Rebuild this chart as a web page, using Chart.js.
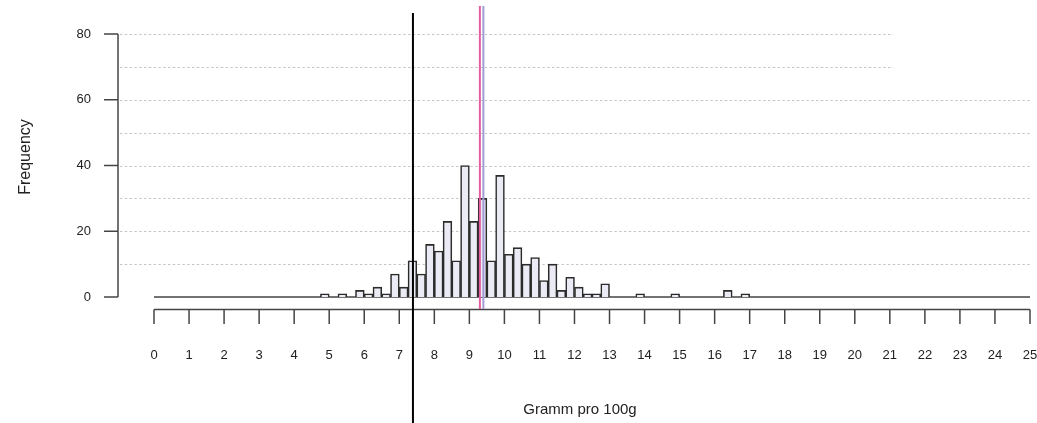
<!DOCTYPE html>
<html>
<head>
<meta charset="utf-8">
<script src="https://cdn.jsdelivr.net/npm/chart.js@4.4.1/dist/chart.umd.min.js"></script>
<style>
  html, body { margin: 0; padding: 0; background: #fff; }
  #wrap { width: 1037px; height: 423px; }
</style>
</head>
<body>
<div id="wrap"><canvas id="hist" width="1037" height="423"></canvas></div>
<script>
// ===== DATA =====
// left edge of each 0.25-wide bin that has counts
const binLeft = [4.75, 5.25, 5.75, 6.0, 6.25, 6.5, 6.75, 7.0, 7.25, 7.5, 7.75, 8.0, 8.25, 8.5,
  8.75, 9.0, 9.25, 9.5, 9.75, 10.0, 10.25, 10.5, 10.75, 11.0, 11.25, 11.5, 11.75, 12.0,
  12.25, 12.5, 12.75, 13.75, 14.75, 16.25, 16.75];
const counts = [1, 1, 2, 1, 3, 1, 7, 3, 11, 7, 16, 14, 23, 11,
  40, 23, 30, 11, 37, 13, 15, 10, 12, 5, 10, 2, 6, 3,
  1, 1, 4, 1, 1, 2, 1];
const binWidth = 0.25;

const xTicks = [0, 1, 2, 3, 4, 5, 6, 7, 8, 9, 10, 11, 12, 13, 14, 15, 16, 17, 18, 19, 20, 21, 22, 23, 24, 25];
const yTicks = [0, 20, 40, 60, 80];
const gridValues = [10, 20, 30, 40, 50, 60, 70, 80];

// reference lines: black, pink, purple
const refLines = [7.39, 9.30, 9.40];

const xTitle = 'Gramm pro 100g';
const yTitle = 'Frequency';

// ===== HELPERS =====
const FONT = '"Liberation Sans", Arial, sans-serif';
const AXIS = '#444';

function line(ctx, x1, y1, x2, y2) {
  ctx.beginPath();
  ctx.moveTo(x1, y1);
  ctx.lineTo(x2, y2);
  ctx.stroke();
}

// draws the R-style axes, grid and labels around the bars
const baseAxes = {
  id: 'baseAxes',
  beforeDatasetsDraw(chart) {
    const { ctx, scales: { x, y } } = chart;
    const x0 = x.getPixelForValue(0), x1 = x.getPixelForValue(25);
    ctx.save();

    // dotted grid
    ctx.strokeStyle = '#c4c4c4';
    ctx.lineWidth = 1;
    ctx.setLineDash([2.4, 2.4]);
    gridValues.forEach(v => {
      const py = Math.round(y.getPixelForValue(v)) + 0.5;
      const end = v >= 70 ? x.getPixelForValue(21.1) : x1;
      line(ctx, 120, py, end, py);
    });
    ctx.setLineDash([]);

    // histogram base line
    ctx.strokeStyle = AXIS;
    ctx.lineWidth = 1.5;
    const yb = y.getPixelForValue(0);
    line(ctx, x0, yb, x1, yb);

    // y axis
    const yTop = y.getPixelForValue(80);
    line(ctx, 118, yTop, 118, yb);
    ctx.fillStyle = '#222';
    ctx.font = '13px ' + FONT;
    ctx.textAlign = 'right';
    ctx.textBaseline = 'middle';
    yTicks.forEach(v => {
      const py = y.getPixelForValue(v);
      line(ctx, 104, py, 118, py);
      ctx.fillText(String(v), 91, py);
    });

    // x axis
    const ya = 309.5;
    line(ctx, x0, ya, x1, ya);
    ctx.textAlign = 'center';
    xTicks.forEach(v => {
      const px = x.getPixelForValue(v);
      line(ctx, px, ya, px, 324);
      ctx.fillText(String(v), px, 355);
    });

    // titles
    ctx.font = '15px ' + FONT;
    ctx.fillText(xTitle, 580, 410);
    ctx.save();
    ctx.translate(26, 157);
    ctx.rotate(-Math.PI / 2);
    ctx.font = '16px ' + FONT;
    ctx.fillText(yTitle, 0, 0);
    ctx.restore();

    ctx.restore();
  },
  afterDatasetsDraw(chart) {
    const { ctx, scales: { x } } = chart;
    ctx.save();
    ctx.lineWidth = 2;
    // black
    ctx.strokeStyle = '#000';
    let px = x.getPixelForValue(refLines[0]);
    line(ctx, px, 13, px, 423);
    // pink
    ctx.strokeStyle = '#e35d9f';
    px = x.getPixelForValue(refLines[1]);
    line(ctx, px, 6, px, 309);
    // purple
    ctx.strokeStyle = '#a39ad6';
    px = x.getPixelForValue(refLines[2]);
    line(ctx, px, 6, px, 309);
    ctx.restore();
  }
};

// ===== CHART =====
new Chart(document.getElementById('hist'), {
  type: 'bar',
  data: {
    datasets: [{
      data: binLeft.map((l, i) => ({ x: l + binWidth / 2, y: counts[i] })),
      backgroundColor: '#ebebf5',
      borderColor: '#2b2b2b',
      borderWidth: 1.6,
      borderSkipped: 'bottom',
      barPercentage: 1,
      categoryPercentage: 1
    }]
  },
  options: {
    responsive: false,
    animation: false,
    devicePixelRatio: 1,
    layout: { padding: { left: 154, right: 7, top: 34, bottom: 126 } },
    plugins: { legend: { display: false }, tooltip: { enabled: false } },
    scales: {
      x: { type: 'linear', min: 0, max: 25, offset: false, display: false },
      y: { min: 0, max: 80, display: false }
    }
  },
  plugins: [baseAxes]
});
</script>
</body>
</html>
